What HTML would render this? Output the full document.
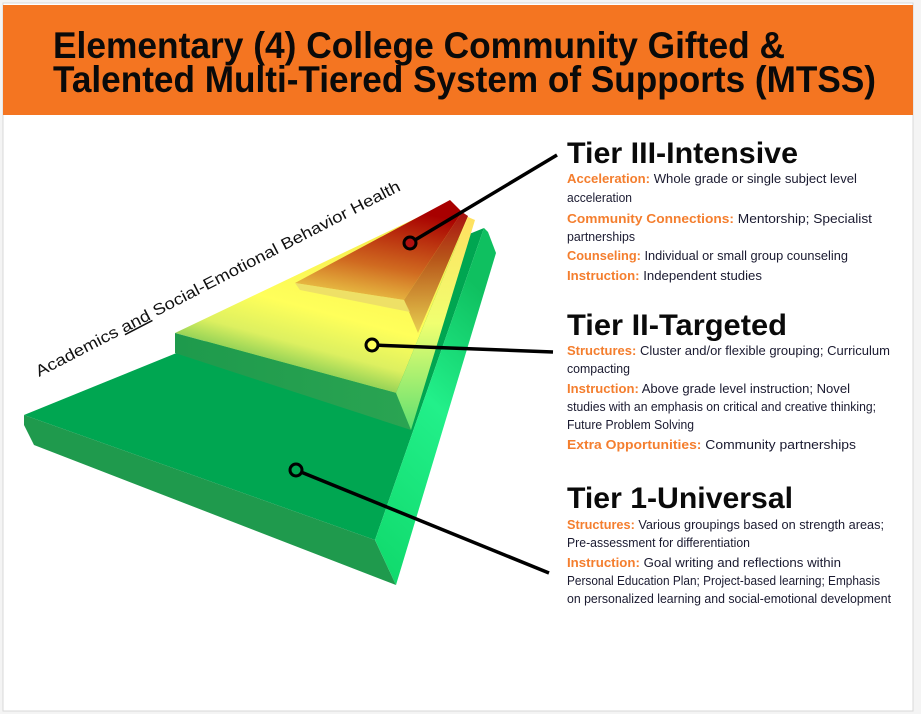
<!DOCTYPE html>
<html><head><meta charset="utf-8"><style>
html,body{margin:0;padding:0;background:#f4f4f4;}
svg{display:block;}
</style></head><body>
<svg width="921" height="714" viewBox="0 0 921 714" xmlns="http://www.w3.org/2000/svg" font-family="'Liberation Sans', sans-serif">
<defs>
<linearGradient id="rside" x1="0" y1="1" x2="0.3" y2="0">
<stop offset="0" stop-color="#0fd86a"/><stop offset="0.6" stop-color="#22f08a"/><stop offset="1" stop-color="#0fc060"/></linearGradient>
<linearGradient id="t2top" x1="0.2" y1="0.95" x2="0.55" y2="0.1">
<stop offset="0" stop-color="#2aa84a"/><stop offset="0.3" stop-color="#ddf060"/><stop offset="0.5" stop-color="#ffff5a"/><stop offset="1" stop-color="#f6ee50"/></linearGradient>
<linearGradient id="t3top" x1="0" y1="1" x2="0.3" y2="0">
<stop offset="0" stop-color="#f2e052"/><stop offset="0.45" stop-color="#d06a20"/><stop offset="1" stop-color="#a80000"/></linearGradient>
<linearGradient id="t3side" x1="0" y1="1" x2="0" y2="0">
<stop offset="0" stop-color="#e8d050"/><stop offset="0.6" stop-color="#b8581a"/><stop offset="1" stop-color="#a81010"/></linearGradient>
<linearGradient id="t2side" x1="0" y1="1" x2="0" y2="0">
<stop offset="0" stop-color="#60e070"/><stop offset="0.5" stop-color="#f0ff70"/><stop offset="1" stop-color="#ffe060"/></linearGradient>
<linearGradient id="t2front" x1="0" y1="0" x2="1" y2="0">
<stop offset="0" stop-color="#1e9a4c"/><stop offset="1" stop-color="#2aa452"/></linearGradient>
</defs>
<rect x="3" y="3" width="910" height="708" fill="#ffffff" stroke="#d8d8d8"/>
<rect x="3" y="5" width="910" height="110" fill="#f47521"/>
<text x="53" y="58" font-size="37" font-weight="bold" fill="#0a0a0a" textLength="732" lengthAdjust="spacingAndGlyphs">Elementary (4) College Community Gifted &amp;</text>
<text x="53" y="92" font-size="37" font-weight="bold" fill="#0a0a0a" textLength="823" lengthAdjust="spacingAndGlyphs">Talented Multi-Tiered System of Supports (MTSS)</text>

<polygon points="24,415 375,540 484,228" fill="#00a651"/>
<polygon points="24,415 375,540 396,585 34,445 24,425" fill="#1f9a4d"/>
<polygon points="375,540 396,585 496,253 488,232 484,228" fill="url(#rside)"/>
<polygon points="175,333 396,393 468,217 450,202" fill="url(#t2top)"/>
<polygon points="175,333 396,393 411,430 175,353" fill="url(#t2front)"/>
<polygon points="396,393 411,430 475,220 468,217" fill="url(#t2side)"/>
<polygon points="295,283 404,300 462,212 450,200" fill="url(#t3top)"/>
<polygon points="404,300 418,333 468,216 462,212" fill="url(#t3side)"/>
<polygon points="295,283 404,300 410,312 300,290" fill="#eada6a" opacity="0.8"/>

<text font-size="16" fill="#111" transform="translate(39,377) rotate(-27.3)" textLength="408" lengthAdjust="spacingAndGlyphs">Academics <tspan text-decoration="underline">and</tspan> Social-Emotional Behavior Health</text>

<g stroke="#000" stroke-width="3.5" fill="none">
<line x1="410" y1="243" x2="557" y2="155"/>
<line x1="372" y1="345" x2="553" y2="352"/>
<line x1="296" y1="470" x2="549" y2="573"/>
</g>
<g stroke="#000" stroke-width="3" >
<circle cx="410" cy="243" r="6" fill="#b01010"/>
<circle cx="372" cy="345" r="6" fill="#ffff5a"/>
<circle cx="296" cy="470" r="6" fill="#00a651"/>
</g>

<g font-size="13" fill="#1a1a30">
<text x="567" y="163" font-size="30" font-weight="bold" fill="#0a0a0a" textLength="231" lengthAdjust="spacingAndGlyphs">Tier III-Intensive</text>
<text x="567" y="183" textLength="290" lengthAdjust="spacingAndGlyphs"><tspan fill="#f47e2e" font-weight="bold">Acceleration:</tspan> Whole grade or single subject level</text>
<text x="567" y="202" textLength="65" lengthAdjust="spacingAndGlyphs">acceleration</text>
<text x="567" y="223" textLength="305" lengthAdjust="spacingAndGlyphs"><tspan fill="#f47e2e" font-weight="bold">Community Connections:</tspan> Mentorship; Specialist</text>
<text x="567" y="241" textLength="68" lengthAdjust="spacingAndGlyphs">partnerships</text>
<text x="567" y="260" textLength="281" lengthAdjust="spacingAndGlyphs"><tspan fill="#f47e2e" font-weight="bold">Counseling:</tspan> Individual or small group counseling</text>
<text x="567" y="280" textLength="195" lengthAdjust="spacingAndGlyphs"><tspan fill="#f47e2e" font-weight="bold">Instruction:</tspan> Independent studies</text>

<text x="567" y="335" font-size="30" font-weight="bold" fill="#0a0a0a" textLength="220" lengthAdjust="spacingAndGlyphs">Tier II-Targeted</text>
<text x="567" y="355" textLength="323" lengthAdjust="spacingAndGlyphs"><tspan fill="#f47e2e" font-weight="bold">Structures:</tspan> Cluster and/or flexible grouping; Curriculum</text>
<text x="567" y="373" textLength="63" lengthAdjust="spacingAndGlyphs">compacting</text>
<text x="567" y="393" textLength="283" lengthAdjust="spacingAndGlyphs"><tspan fill="#f47e2e" font-weight="bold">Instruction:</tspan> Above grade level instruction; Novel</text>
<text x="567" y="411" textLength="309" lengthAdjust="spacingAndGlyphs">studies with an emphasis on critical and creative thinking;</text>
<text x="567" y="429" textLength="127" lengthAdjust="spacingAndGlyphs">Future Problem Solving</text>
<text x="567" y="449" textLength="289" lengthAdjust="spacingAndGlyphs"><tspan fill="#f47e2e" font-weight="bold">Extra Opportunities:</tspan> Community partnerships</text>

<text x="567" y="508" font-size="30" font-weight="bold" fill="#0a0a0a" textLength="226" lengthAdjust="spacingAndGlyphs">Tier 1-Universal</text>
<text x="567" y="529" textLength="317" lengthAdjust="spacingAndGlyphs"><tspan fill="#f47e2e" font-weight="bold">Structures:</tspan> Various groupings based on strength areas;</text>
<text x="567" y="547" textLength="183" lengthAdjust="spacingAndGlyphs">Pre-assessment for differentiation</text>
<text x="567" y="567" textLength="274" lengthAdjust="spacingAndGlyphs"><tspan fill="#f47e2e" font-weight="bold">Instruction:</tspan> Goal writing and reflections within</text>
<text x="567" y="585" textLength="313" lengthAdjust="spacingAndGlyphs">Personal Education Plan; Project-based learning; Emphasis</text>
<text x="567" y="603" textLength="324" lengthAdjust="spacingAndGlyphs">on personalized learning and social-emotional development</text>
</g>
</svg>
</body></html>
